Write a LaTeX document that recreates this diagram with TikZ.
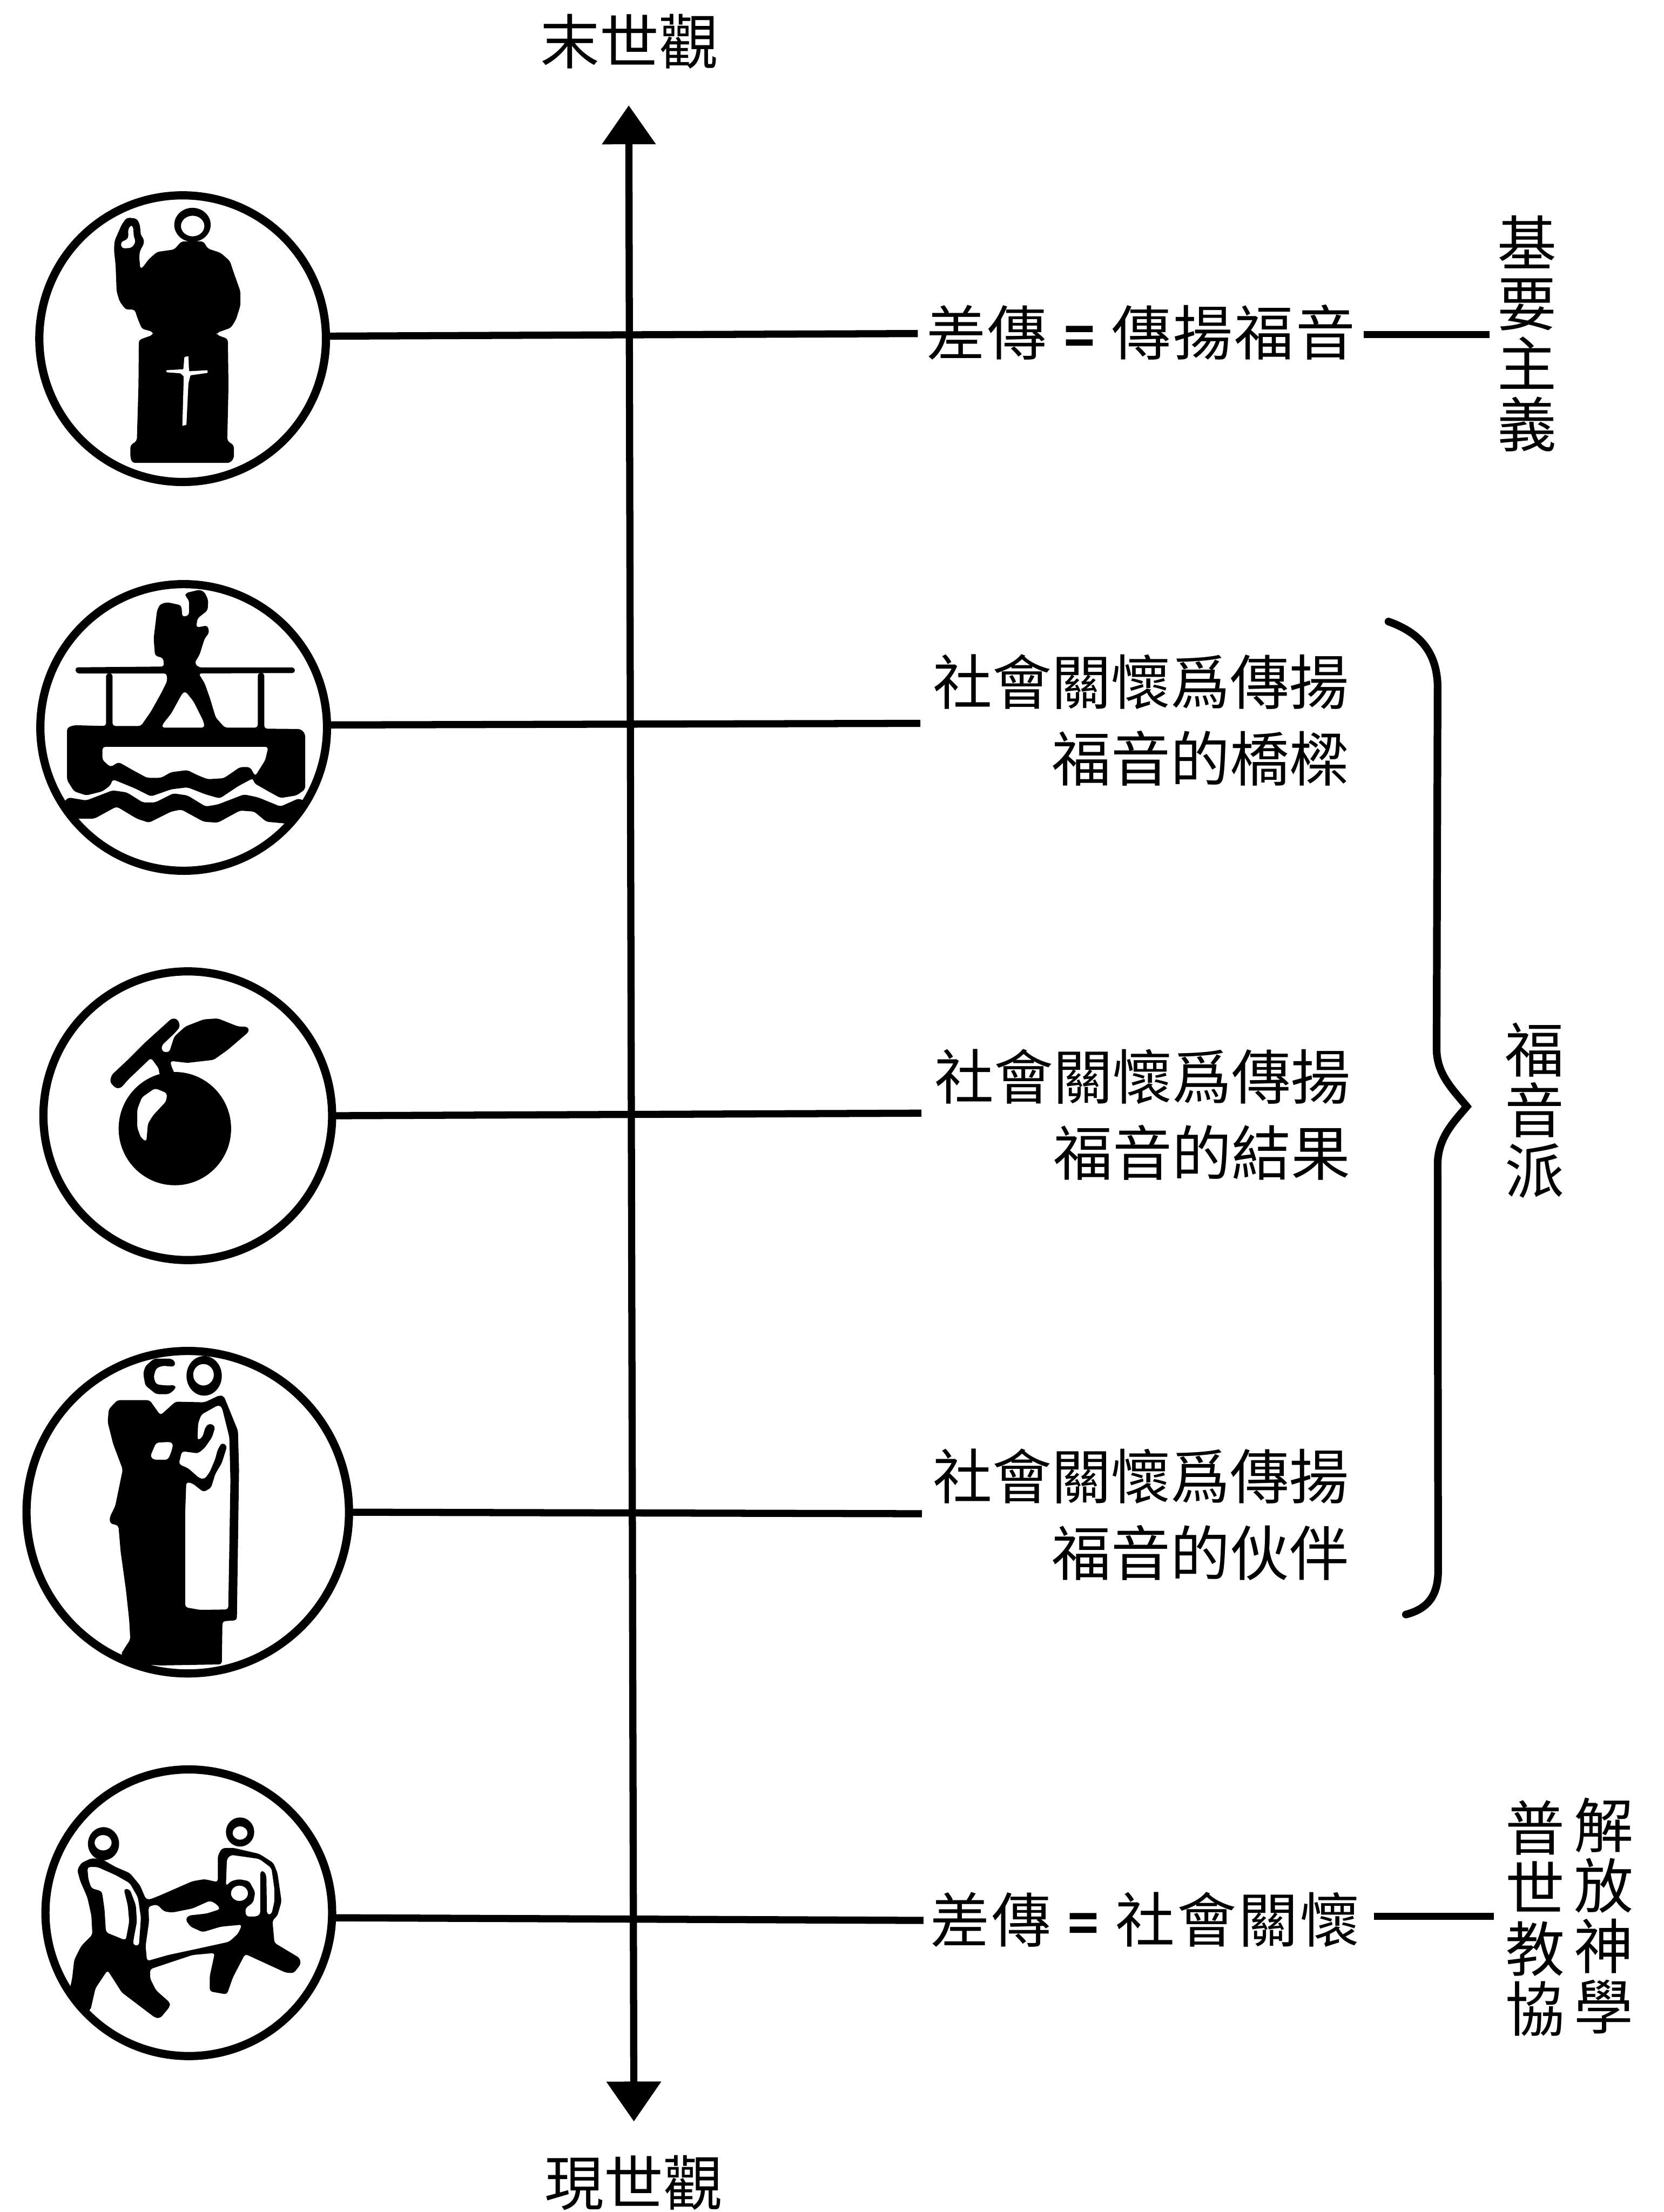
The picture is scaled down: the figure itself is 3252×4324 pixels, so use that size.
\documentclass[tikz,border=0pt]{standalone}
\usepackage{fontspec}
\usetikzlibrary{arrows.meta}
\newfontfamily\cjk{Noto Sans CJK TC}
\newfontfamily\cjkw[LetterSpace=3.5]{Noto Sans CJK TC}
\tikzset{
  ring/.style={circle,draw=black,line width=0.16cm,inner sep=0pt,outer sep=0pt,minimum size=#1},
  conn/.style={draw=black,line width=0.14cm},
  axisline/.style={draw=black,line width=0.14cm,{Triangle[length=0.76cm,width=1.02cm]}-{Triangle[length=0.78cm,width=1.04cm]}},
  bracket/.style={draw=black,line width=0.15cm,line cap=round},
  lbl/.style={font=\cjk\fontsize{33}{33}\selectfont,inner sep=0pt,outer sep=0pt},
  widelbl/.style={font=\cjkw\fontsize{33}{33}\selectfont,inner sep=0pt,outer sep=0pt},
  twoline/.style={font=\cjk\fontsize{33}{42.5}\selectfont,inner sep=0pt,outer sep=0pt,align=right},
  column/.style={font=\cjk\fontsize{33}{33.6}\selectfont,inner sep=0pt,outer sep=0pt,align=center},
  icon/.style={fill=black,even odd rule,rounded corners=1.5pt},
  iconwhite/.style={fill=white,rounded corners=1.5pt},
}
\newcommand{\eqsign}{\hspace{0.33cm}{\fontsize{28}{28}\selectfont\bfseries=}\hspace{0.33cm}}
\begin{document}
\begin{tikzpicture}[x=0.01cm,y=-0.01cm]
\useasboundingbox (0,0) rectangle (3252,4324);
\fill[white] (0,0) rectangle (3252,4324);

% end labels and axis
\node[lbl] (top) at (1230,81) {末世觀};
\node[lbl] (bottom) at (1239,4267) {現世觀};
\coordinate (axisA) at (1229,206);
\coordinate (axisB) at (1239,4147);
\draw[axisline] (axisA) -- (axisB);

% circles
\node[ring=5.60cm] (c1) at (357,662) {};
\node[ring=5.60cm] (c2) at (359,1422) {};
\node[ring=5.64cm] (c3) at (367,2181) {};
\node[ring=6.30cm] (c4) at (367,2956) {};
\node[ring=5.60cm] (c5) at (369,3739) {};

% texts
\node[widelbl] (t1) at (2230,650) {差傳\eqsign 傳揚福音};
\node[twoline] (t2) at (2230,1408) {社會關懷爲傳揚\\福音的橋樑};
\node[twoline] (t3) at (2233,2179) {社會關懷爲傳揚\\福音的結果};
\node[twoline] (t4) at (2230,2961) {社會關懷爲傳揚\\福音的伙伴};
\node[widelbl] (t5) at (2238,3753) {差傳\eqsign 社會關懷};
\node[column] (v1) at (2985,652) {基\\要\\主\\義};
\node[column] (v3) at (3000,2171) {福\\音\\派};
\node[column] (v5a) at (3001,3750) {普\\世\\教\\協};
\node[column] (v5b) at (3135,3745) {解\\放\\神\\學};

% connectors
\coordinate (e1) at (1794,652);
\coordinate (e2) at (1799,1414);
\coordinate (e3) at (1801,2176);
\coordinate (e4) at (1802,2959);
\coordinate (e5) at (1805,3754);
\draw[conn] (c1.1) -- (e1);
\draw[conn] (c2.1) -- (e2);
\draw[conn] (c3.0) -- (e3);
\draw[conn] (c4.0) -- (e4);
\draw[conn] (c5.-2.5) -- (e5);
\coordinate (s1a) at (2665,654);
\coordinate (s1b) at (2912,654);
\coordinate (s5a) at (2686,3746);
\coordinate (s5b) at (2920,3746);
\draw[conn] (s1a) -- (s1b);
\draw[conn] (s5a) -- (s5b);

% brace
\draw[bracket] (2714,1215) .. controls (2770,1235) and (2808,1270) .. (2810,1340)
  -- (2808,2050) .. controls (2808,2100) and (2840,2130) .. (2867,2163)
  .. controls (2840,2195) and (2810,2225) .. (2810,2277)
  -- (2811,3070) .. controls (2811,3120) and (2790,3145) .. (2748,3156);

% icon 1: preacher
\begin{scope}[shift={(50,360)},scale=0.3954]
\fill[icon] (825,201) ellipse [x radius=90,y radius=84]
  (826,207) ellipse [x radius=58,y radius=51];
\fill[icon] (440,280) -- (475,200) -- (500,165) -- (550,170) -- (565,200) -- (570,255) -- (585,270) -- (585,295) -- (565,330) -- (562,360) -- (567,420) -- (580,410) -- (610,370) -- (650,335) -- (735,323) -- (770,283) -- (880,283) -- (900,318) -- (965,340) -- (1010,380) -- (1030,440) -- (1062,530) -- (1062,600) -- (1040,670) -- (1015,710) -- (945,735) -- (945,745) -- (1000,765) -- (1003,1000) -- (997,1270) -- (1030,1290) -- (1030,1355) -- (1010,1378) -- (527,1378) -- (518,1350) -- (518,1290) -- (550,1270) -- (558,1000) -- (560,770) -- (630,745) -- (630,730) -- (575,715) -- (552,660) -- (540,620) -- (495,620) -- (465,580) -- (450,530) -- (445,400) -- (437,325) -- cycle
  (470,285) -- (500,275) -- (510,255) -- (505,230) -- (520,200) -- (532,210) -- (535,260) -- (545,285) -- (525,315) -- (475,318) -- cycle;
\fill[iconwhite,rounded corners=0.3pt] (785,855) -- (805,850) -- (808,925) -- (900,920) -- (900,933) -- (815,945) -- (805,985) -- (795,1190) -- (775,1195) -- (778,1090) -- (782,950) -- (765,935) -- (697,930) -- (695,920) -- (780,915) -- cycle;
\end{scope}

% icon 2: bridge
\begin{scope}[shift={(50,1110)},scale=0.3954]
\fill[icon] (245,492) -- (685,488) -- (680,445) -- (640,435) -- (633,350) -- (650,210) -- (665,180) -- (700,170) -- (770,185) -- (775,243) -- (808,235) -- (808,160) -- (790,140) -- (790,125) -- (860,108) -- (885,120) -- (903,160) -- (900,210) -- (850,250) -- (843,295) -- (900,285) -- (908,320) -- (885,350) -- (860,430) -- (835,470) -- (855,492) -- (1330,492) -- (1332,520) -- (855,522) -- (885,570) -- (910,640) -- (940,740) -- (985,790) -- (1148,790) -- (1148,520) -- (1180,520) -- (1180,795) -- (1360,797) -- (1382,820) -- (1382,1095) -- (1340,1125) -- (1260,1138) -- (1200,1105) -- (1130,1065) -- (1125,1040) -- (1050,1080) -- (960,1140) -- (890,1120) -- (800,1085) -- (720,1095) -- (620,1130) -- (540,1090) -- (430,1045) -- (420,1075) -- (380,1105) -- (300,1125) -- (240,1105) -- (205,1050) -- (205,790) -- (240,778) -- (398,782) -- (398,522) -- (430,522) -- (430,782) -- (570,782) -- (620,710) -- (670,620) -- (700,560) -- (698,522) -- (250,522) -- cycle
  (790,610) -- (830,660) -- (880,760) -- (885,790) -- (672,790) -- (680,770) -- (720,720) -- (775,620) -- cycle
  (380,885) -- (1200,885) -- (1185,950) -- (1135,1030) -- (1110,985) -- (1060,985) -- (980,1040) -- (900,1045) -- (850,1025) -- (800,1000) -- (720,1010) -- (670,1038) -- (600,1038) -- (530,1000) -- (460,960) -- (420,985) -- (380,950) -- cycle;
\fill[icon] (185,1165) -- (210,1135) -- (300,1150) -- (430,1100) -- (500,1110) -- (580,1160) -- (640,1160) -- (730,1115) -- (800,1125) -- (890,1180) -- (950,1170) -- (1080,1120) -- (1150,1135) -- (1260,1180) -- (1350,1140) -- (1385,1155) -- (1295,1265) -- (1190,1255) -- (1130,1205) -- (1060,1200) -- (950,1260) -- (880,1255) -- (770,1195) -- (720,1205) -- (610,1260) -- (550,1240) -- (450,1180) -- (340,1240) -- (245,1240) -- cycle;
\end{scope}

% icon 3: fruit
\begin{scope}[shift={(50,1880)},scale=0.3954]
\fill[icon] (738,825) ellipse [x radius=278,y radius=280]
  (640,625) -- (700,650) -- (695,690) -- (630,760) -- (605,800) -- (597,890) -- (570,870) -- (552,820) -- (552,730) -- (575,670) -- cycle;
\fill[icon] (725,278) -- (752,285) -- (765,320) -- (740,350) -- (672,415) -- (675,445) -- (710,448) -- (735,370) -- (790,320) -- (880,285) -- (950,280) -- (1050,320) -- (1100,322) -- (1105,345) -- (1000,435) -- (930,485) -- (800,500) -- (715,490) -- (720,515) -- (740,560) -- (660,560) -- (660,530) -- (620,475) -- (510,580) -- (470,625) -- (445,625) -- (417,595) -- (425,560) -- (500,490) -- (590,400) -- cycle;
\end{scope}

% icon 4: two people
\begin{scope}[shift={(40,2620)},scale=0.4209]
\fill[icon] (720,100) -- (700,85) -- (620,85) -- (580,120) -- (570,155) -- (580,210) -- (630,250) -- (690,250) -- (720,225) -- (720,208) -- (680,210) -- (630,205) -- (618,170) -- (630,130) -- (660,118) -- (715,123) -- cycle;
\fill[icon] (853,165) ellipse [x radius=82,y radius=92]
  (850,160) ellipse [x radius=48,y radius=50];
\fill[icon] (450,278) -- (600,278) -- (650,348) -- (720,285) -- (855,288) -- (925,255) -- (945,260) -- (1010,420) -- (1015,600) -- (1005,1300) -- (938,1305) -- (935,1505) -- (650,1510) -- (560,1505) -- (465,1460) -- (490,1420) -- (510,1390) -- (505,1300) -- (490,1160) -- (465,980) -- (455,860) -- (415,850) -- (415,820) -- (440,770) -- (475,600) -- (430,480) -- (405,380) -- (410,320) -- cycle
  (920,300) -- (935,310) -- (970,450) -- (975,650) -- (970,960) -- (965,1250) -- (835,1252) -- (765,1240) -- (765,800) -- (770,658) -- (800,665) -- (850,705) -- (885,685) -- (905,620) -- (935,570) -- (960,490) -- (935,475) -- (915,510) -- (905,550) -- (880,610) -- (855,645) -- (830,640) -- (780,595) -- (735,575) -- (750,515) -- (825,525) -- (855,500) -- (890,450) -- (905,400) -- (880,385) -- (860,400) -- (845,450) -- (822,465) -- (825,385) -- (840,345) -- cycle
  (630,475) -- (695,472) -- (710,480) -- (700,520) -- (685,555) -- (620,555) -- (602,540) -- cycle;
\end{scope}

% icon 5: stretcher
\begin{scope}[shift={(60,3440)},scale=0.3954]
\fill[icon] (360,415) ellipse [x radius=77,y radius=82]
  (358,410) ellipse [x radius=42,y radius=38];
\fill[icon] (1035,357) ellipse [x radius=70,y radius=72]
  (1035,362) ellipse [x radius=37,y radius=33];
\fill[icon] (230,545) -- (250,510) -- (300,487) -- (350,490) -- (420,530) -- (490,560) -- (540,620) -- (570,690) -- (590,690) -- (640,670) -- (800,600) -- (860,590) -- (925,605) -- (925,475) -- (945,437) -- (1000,435) -- (1130,465) -- (1200,510) -- (1220,560) -- (1240,700) -- (1220,770) -- (1195,795) -- (1205,905) -- (1330,980) -- (1335,1010) -- (1300,1055) -- (1260,1052) -- (1060,960) -- (1000,1075) -- (970,1160) -- (885,1145) -- (885,1070) -- (910,955) -- (800,965) -- (590,1035) -- (590,1080) -- (620,1140) -- (688,1200) -- (688,1220) -- (640,1278) -- (615,1275) -- (450,1150) -- (380,1040) -- (320,1130) -- (295,1240) -- (255,1240) -- (190,1150) -- (205,1080) -- (215,990) -- (250,920) -- (305,865) -- (300,770) -- (280,680) -- (245,600) -- cycle
  (280,530) -- (330,530) -- (420,570) -- (490,610) -- (530,680) -- (545,780) -- (535,920) -- (505,915) -- (510,880) -- (525,800) -- (520,720) -- (490,640) -- (460,638) -- (480,720) -- (487,800) -- (470,893) -- (372,853) -- (365,740) -- (352,650) -- (300,635) -- (285,590) -- cycle
  (582,725) -- (625,715) -- (660,750) -- (700,755) -- (800,735) -- (885,697) -- (915,710) -- (938,738) -- (870,760) -- (780,770) -- (765,790) -- (790,825) -- (850,852) -- (940,825) -- (1045,815) -- (1025,860) -- (980,900) -- (820,935) -- (680,965) -- (575,995) -- (568,920) -- (585,800) -- cycle
  (970,490) -- (990,470) -- (1130,490) -- (1190,535) -- (1205,640) -- (1205,700) -- (1190,765) -- (1168,765) -- (1165,575) -- (1155,550) -- (1135,550) -- (1135,765) -- (1115,775) -- (1065,775) -- (1060,735) -- (1100,705) -- (1110,655) -- (1080,600) -- (1030,590) -- (990,600) -- (965,625) -- cycle
  (1032,660) ellipse [x radius=42,y radius=38];
\end{scope}
\end{tikzpicture}
\end{document}
